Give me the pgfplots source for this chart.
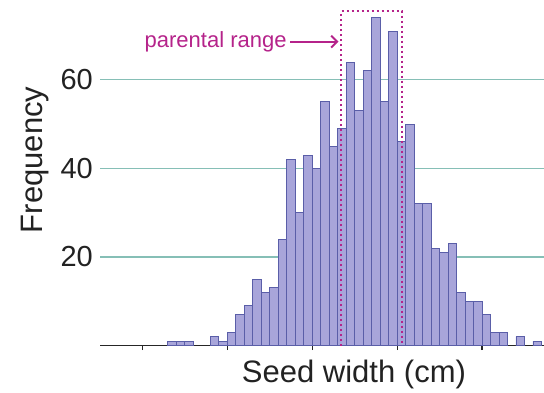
\documentclass[border=0pt]{standalone}
\usepackage{pgfplots}
\pgfplotsset{compat=1.18}
\usepackage{fontspec}
\setmainfont{Liberation Sans}
\usetikzlibrary{arrows.meta}
\definecolor{barfill}{HTML}{A8A5DA}
\definecolor{baredge}{HTML}{5A5EA8}
\definecolor{gridc}{HTML}{86BFB6}
\definecolor{mag}{HTML}{B5238A}
\definecolor{txt}{HTML}{222222}
\begin{document}
\begin{tikzpicture}
\path[use as bounding box] (0,0) rectangle (544pt,392pt);
\begin{axis}[
  at={(100pt,46.5pt)}, anchor=south west,
  scale only axis, width=444pt, height=345.5pt,
  xmin=-5, xmax=47.3, ymin=0, ymax=78,
  ybar, bar width=1,
  separate axis lines,
  axis x line*=bottom, axis y line*=left,
  x axis line style={black!85, line width=1.3pt, -},
  y axis line style={draw=none},
  xtick={0,10,20,30,40}, xticklabels={},
  xtick align=outside, major tick length=4.5pt,
  xtick style={black!85, line width=1.1pt},
  ytick={20,40,60},
  ytick style={draw=none},
  ymajorgrids, grid style={gridc, line width=1.3pt},
  /pgf/number format/assume math mode=true,
  yticklabel style={font=\fontsize{29}{29}\selectfont, text=txt, inner sep=0pt, anchor=east, xshift=-7pt},
  xlabel={Seed width (cm)},
  xlabel style={at={(axis description cs:0.572,0)}, anchor=base, yshift=-36.5pt, font=\fontsize{31}{31}\selectfont, text=txt},
  ylabel={Frequency},
  ylabel style={at={(axis description cs:-0.1306,0.537)}, anchor=base, font=\fontsize{31}{31}\selectfont, text=txt},
  clip=false,
]
\addplot[fill=barfill, draw=baredge, line width=0.9pt, bar shift=0pt] coordinates {
(3.5,1) (4.5,1) (5.5,1) (8.5,2) (9.5,1) (10.5,3) (11.5,7) (12.5,9) (13.5,15) (14.5,12)
(15.5,13) (16.5,24) (17.5,42) (18.5,30) (19.5,43) (20.5,40) (21.5,55) (22.5,45) (23.5,49) (24.5,64)
(25.5,53) (26.5,62) (27.5,74) (28.5,55) (29.5,71) (30.5,46) (31.5,50) (32.5,32) (33.5,32) (34.5,22)
(35.5,21) (36.5,23) (37.5,12) (38.5,10) (39.5,10) (40.5,7) (41.5,3) (42.5,3) (44.5,2) (46.5,1)
};
\draw[mag, line width=1.8pt, dash pattern=on 2pt off 3pt]
  (axis cs:23.4,0) -- (axis cs:23.4,75.5) -- (axis cs:30.6,75.5) -- (axis cs:30.6,0);
\node[anchor=east, text=mag, inner sep=0pt, font=\fontsize{22}{22}\selectfont] at (axis cs:17.0,68.5) {parental range};
\draw[mag, line width=2pt, -{Straight Barb[length=6pt,width=12pt,line width=2pt]}] (axis cs:17.4,68.6) -- (axis cs:23.1,68.6);
\end{axis}
\end{tikzpicture}
\end{document}
